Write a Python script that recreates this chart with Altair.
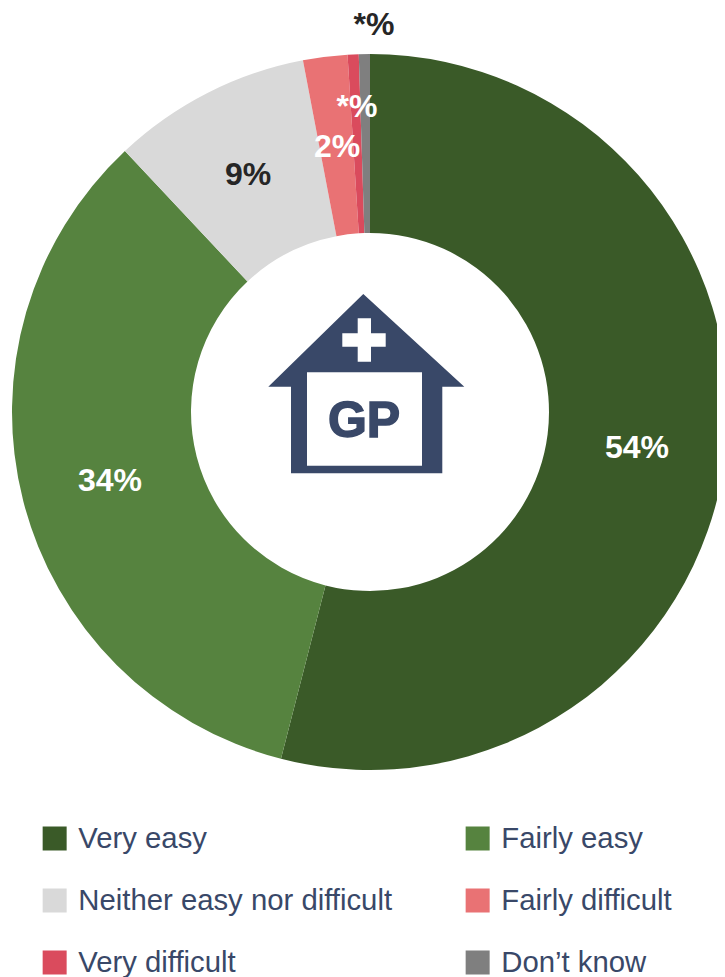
import altair as alt
import pandas as pd

categories = ["Very easy", "Fairly easy", "Neither easy nor difficult", "Fairly difficult", "Very difficult", "Don\u2019t know"]
values = [54, 34, 9, 2, 0.5, 0.5]
colors = ["#3A5A28", "#56833F", "#D9D9D9", "#E97274", "#DA4B5D", "#7F7F7F"]
labels = ["54%", "34%", "9%", "2%", "*%", "*%"]
label_colors = ["#FFFFFF", "#FFFFFF", "#262626", "#FFFFFF", "#FFFFFF", "#262626"]
# the legend fills its grid column by column, so list it to read across in rows
legend_order = ["Very easy", "Neither easy nor difficult", "Very difficult", "Fairly easy", "Fairly difficult", "Don\u2019t know"]

# layout, in page pixels (page margin is 8)
M = 8
CX, CY = 370, 412
label_xy = [(637, 448), (110, 481), (248, 175), (337, 147), (357, 107), (374, 25)]
NAVY = "#394868"

df = pd.DataFrame({"category": categories, "value": values, "rank": list(range(len(values)))})

arc = alt.Chart(df).mark_arc(radius=358, radius2=179, stroke=None).encode(
    x=alt.value(CX - M),
    y=alt.value(CY - M),
    theta=alt.Theta("value:Q", stack=True),
    order=alt.Order("rank:Q"),
    color=alt.Color(
        "category:N",
        scale=alt.Scale(domain=categories, range=colors),
        sort=categories,
        legend=alt.Legend(
            title=None, orient="none", legendX=40 - M, legendY=820 - M, columns=2,
            values=legend_order,
            symbolType="square", symbolSize=576, symbolStrokeWidth=0, symbolOpacity=1,
            labelFont="Liberation Sans", labelFontSize=29.3, labelColor=NAVY, labelOffset=9,
            labelLimit=400, rowPadding=25, columnPadding=70, gridAlign="each", clipHeight=37,
        ),
    ),
)

layers = [arc]

# GP house pictogram: a symbol of size 4 draws its path in pixels around its anchor
def icon(path, colour):
    return alt.Chart(df.head(1)).mark_point(
        shape=path, size=4, filled=True, fill=colour, stroke=None, opacity=1
    ).encode(x=alt.value(-M), y=alt.value(-M))

house = "M363.3 294 L464.3 386.7 L442.3 386.7 L442.3 473.3 L291 473.3 L291 386.7 L268.3 386.7 Z"
window = "M307 372.3 L422 372.3 L422 465.7 L307 465.7 Z"
cross = ("M357.7 318.3 L371 318.3 L371 333.3 L385.7 333.3 L385.7 346.7 L371 346.7 L371 361.7 "
         "L357.7 361.7 L357.7 346.7 L342.3 346.7 L342.3 333.3 L357.7 333.3 Z")
layers += [icon(house, NAVY), icon(window, "#FFFFFF"), icon(cross, "#FFFFFF")]

layers.append(
    alt.Chart(df.head(1)).mark_text(
        text="GP", font="Liberation Sans", fontWeight="bold", fontSize=50, color=NAVY,
        stroke=NAVY, strokeWidth=1.5, align="center", baseline="middle",
    ).encode(x=alt.value(364 - M), y=alt.value(422 - M))
)

for text, colour, (lx, ly) in zip(labels, label_colors, label_xy):
    layers.append(
        alt.Chart(df.head(1)).mark_text(
            text=text, font="Liberation Sans", fontWeight="bold", fontSize=32, color=colour,
            align="center", baseline="middle",
        ).encode(x=alt.value(lx - M), y=alt.value(ly - M))
    )

chart = alt.layer(*layers).properties(
    width=709, height=969, padding=0, autosize=alt.AutoSizeParams(type="none"),
    background="#FFFFFF",
).configure_view(stroke=None)

chart.save("out.html", embed_options={"renderer": "svg", "actions": False})
